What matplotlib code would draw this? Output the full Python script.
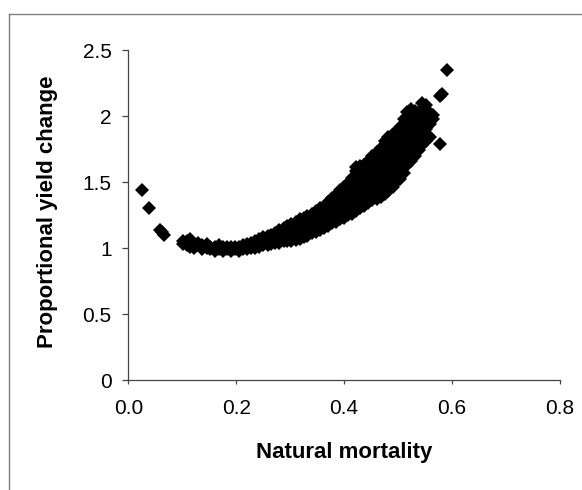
import matplotlib
matplotlib.use('Agg')
import matplotlib.pyplot as plt
from matplotlib.lines import Line2D

# ---- data ----
# isolated points
single_mortality = [0.025, 0.038, 0.058, 0.066, 0.062, 0.577, 0.581, 0.577, 0.590]
single_yield = [1.44, 1.30, 1.14, 1.10, 1.12, 2.15, 2.17, 1.79, 2.35]

# dense band: natural mortality columns and the yield-change values seen in each
column_mortality = [
    0.102, 0.108, 0.115, 0.122, 0.130, 0.137, 0.145, 0.152, 0.160, 0.168,
    0.175, 0.183, 0.190, 0.198, 0.205, 0.212, 0.220, 0.228, 0.235, 0.243,
    0.250, 0.258, 0.265, 0.272, 0.280, 0.288, 0.295, 0.302, 0.310, 0.318,
    0.325, 0.332, 0.340, 0.348, 0.355, 0.362, 0.370, 0.378, 0.385, 0.392,
    0.400, 0.408, 0.415, 0.422, 0.430, 0.437, 0.445, 0.452, 0.460, 0.468,
    0.475, 0.482, 0.490, 0.497, 0.503, 0.510, 0.517, 0.524, 0.531, 0.538,
    0.545, 0.552, 0.559, 0.565,
]
column_yield = [
    [1.05, 1.03], [1.02, 1.05], [1.01, 1.04, 1.07], [1.03, 1.00], [1.02, 1.04],
    [0.99, 1.02], [1.00, 1.03], [0.99, 1.01], [0.98, 1.01], [0.99, 1.02],
    [0.98, 1.01], [0.99, 1.01], [0.98, 1.01], [0.99, 1.01], [0.98, 1.01],
    [0.99, 1.02], [0.99, 1.03], [1.00, 1.04], [1.00, 1.03, 1.05], [1.01, 1.04, 1.07],
    [1.02, 1.05, 1.08], [1.02, 1.05, 1.09], [1.03, 1.06, 1.10], [1.04, 1.07, 1.11],
    [1.04, 1.08, 1.12, 1.14], [1.05, 1.08, 1.12, 1.15], [1.05, 1.09, 1.13, 1.17],
    [1.05, 1.09, 1.13, 1.17, 1.18], [1.06, 1.10, 1.14, 1.18, 1.20],
    [1.07, 1.11, 1.15, 1.19, 1.22], [1.08, 1.12, 1.16, 1.20, 1.23],
    [1.09, 1.13, 1.17, 1.21, 1.24], [1.11, 1.15, 1.19, 1.23, 1.26],
    [1.12, 1.16, 1.20, 1.24, 1.28], [1.14, 1.18, 1.22, 1.26, 1.30],
    [1.15, 1.19, 1.23, 1.27, 1.31], [1.17, 1.21, 1.25, 1.29, 1.33, 1.35],
    [1.19, 1.23, 1.27, 1.31, 1.35, 1.38], [1.20, 1.24, 1.28, 1.32, 1.36, 1.40],
    [1.22, 1.26, 1.30, 1.34, 1.38, 1.42, 1.44],
    [1.23, 1.27, 1.31, 1.35, 1.39, 1.43, 1.46],
    [1.25, 1.29, 1.33, 1.37, 1.41, 1.45, 1.49],
    [1.26, 1.30, 1.34, 1.38, 1.42, 1.46, 1.50, 1.53],
    [1.28, 1.32, 1.36, 1.40, 1.44, 1.48, 1.52, 1.58, 1.61],
    [1.30, 1.34, 1.38, 1.42, 1.46, 1.50, 1.54, 1.58, 1.62],
    [1.32, 1.36, 1.40, 1.44, 1.48, 1.52, 1.56, 1.60, 1.63],
    [1.34, 1.38, 1.42, 1.46, 1.50, 1.54, 1.58, 1.62, 1.66],
    [1.36, 1.40, 1.44, 1.48, 1.52, 1.56, 1.60, 1.64, 1.68, 1.70],
    [1.37, 1.41, 1.45, 1.49, 1.53, 1.57, 1.61, 1.65, 1.69, 1.73],
    [1.39, 1.43, 1.47, 1.51, 1.55, 1.59, 1.63, 1.67, 1.71, 1.76],
    [1.41, 1.45, 1.49, 1.53, 1.57, 1.61, 1.65, 1.69, 1.73, 1.78, 1.81],
    [1.43, 1.47, 1.51, 1.55, 1.59, 1.63, 1.67, 1.71, 1.75, 1.79, 1.84],
    [1.46, 1.50, 1.54, 1.58, 1.62, 1.66, 1.70, 1.74, 1.78, 1.82, 1.86],
    [1.50, 1.54, 1.58, 1.62, 1.66, 1.70, 1.74, 1.78, 1.82, 1.86],
    [1.52, 1.56, 1.60, 1.64, 1.68, 1.72, 1.76, 1.80, 1.84, 1.88, 1.92],
    [1.57, 1.61, 1.65, 1.69, 1.73, 1.77, 1.81, 1.85, 1.89, 1.93, 1.98],
    [1.63, 1.67, 1.71, 1.75, 1.79, 1.83, 1.87, 1.91, 1.95, 1.99, 2.03],
    [1.66, 1.72, 1.78, 1.84, 1.90, 1.95, 2.00, 2.05],
    [1.70, 1.75, 1.80, 1.86, 1.93, 1.98, 2.04],
    [1.74, 1.79, 1.84, 1.89, 1.95, 2.00],
    [1.78, 1.83, 1.88, 1.93, 1.98, 2.05, 2.10],
    [1.81, 1.85, 1.90, 1.95, 2.02, 2.08],
    [1.84, 1.94, 2.02],
    [1.98, 2.01],
]

x_ticks = [0.0, 0.2, 0.4, 0.6, 0.8]
x_tick_labels = ['0.0', '0.2', '0.4', '0.6', '0.8']
y_ticks = [0, 0.5, 1, 1.5, 2, 2.5]
y_tick_labels = ['0', '0.5', '1', '1.5', '2', '2.5']

# ---- build point table ----
mortality = list(single_mortality)
yield_change = list(single_yield)
for xv, ys in zip(column_mortality, column_yield):
    for yv in ys:
        mortality.append(xv)
        yield_change.append(yv)

plt.rcParams['font.family'] = ['Liberation Sans', 'DejaVu Sans']

W, H = 582, 490
fig = plt.figure(figsize=(W / 100, H / 100), dpi=100)
fig.patch.set_facecolor('white')

# outer frame (partially cut by the image edges)
frame_col = '#808080'
fig.add_artist(Line2D([9 / W, 9 / W], [0, 1 - 14 / H], transform=fig.transFigure,
                      color=frame_col, lw=1.0))
fig.add_artist(Line2D([9 / W, 1], [1 - 14 / H, 1 - 14 / H], transform=fig.transFigure,
                      color=frame_col, lw=1.0))

x0, x1 = 128.3, 560.0
y0, y1 = 380.0, 50.0
ax = fig.add_axes([x0 / W, 1 - y0 / H, (x1 - x0) / W, (y0 - y1) / H])

ax.plot(mortality, yield_change, linestyle='none', marker='D', ms=7.6,
        mfc='black', mec='black', mew=0.0)

ax.set_xlim(0, 0.8)
ax.set_ylim(0, 2.5)
ax.set_xticks(x_ticks)
ax.set_xticklabels(x_tick_labels)
ax.set_yticks(y_ticks)
ax.set_yticklabels(y_tick_labels)

for s in ['top', 'right']:
    ax.spines[s].set_visible(False)
for s in ['left', 'bottom']:
    ax.spines[s].set_color('#444444')
    ax.spines[s].set_linewidth(0.9)

ax.tick_params(axis='x', direction='out', length=3, width=0.9, color='#444444',
               pad=11, labelsize=15)
ax.tick_params(axis='y', direction='out', length=4, width=0.9, color='#444444',
               pad=8, labelsize=15)

ax.set_xlabel('Natural mortality', fontsize=16, fontweight='bold')
ax.xaxis.set_label_coords(0.5, -0.188)
ax.set_ylabel('Proportional yield change', fontsize=16, fontweight='bold')
ax.yaxis.set_label_coords(-0.162, 0.51)

fig.savefig('out.png', dpi=100, facecolor='white')
